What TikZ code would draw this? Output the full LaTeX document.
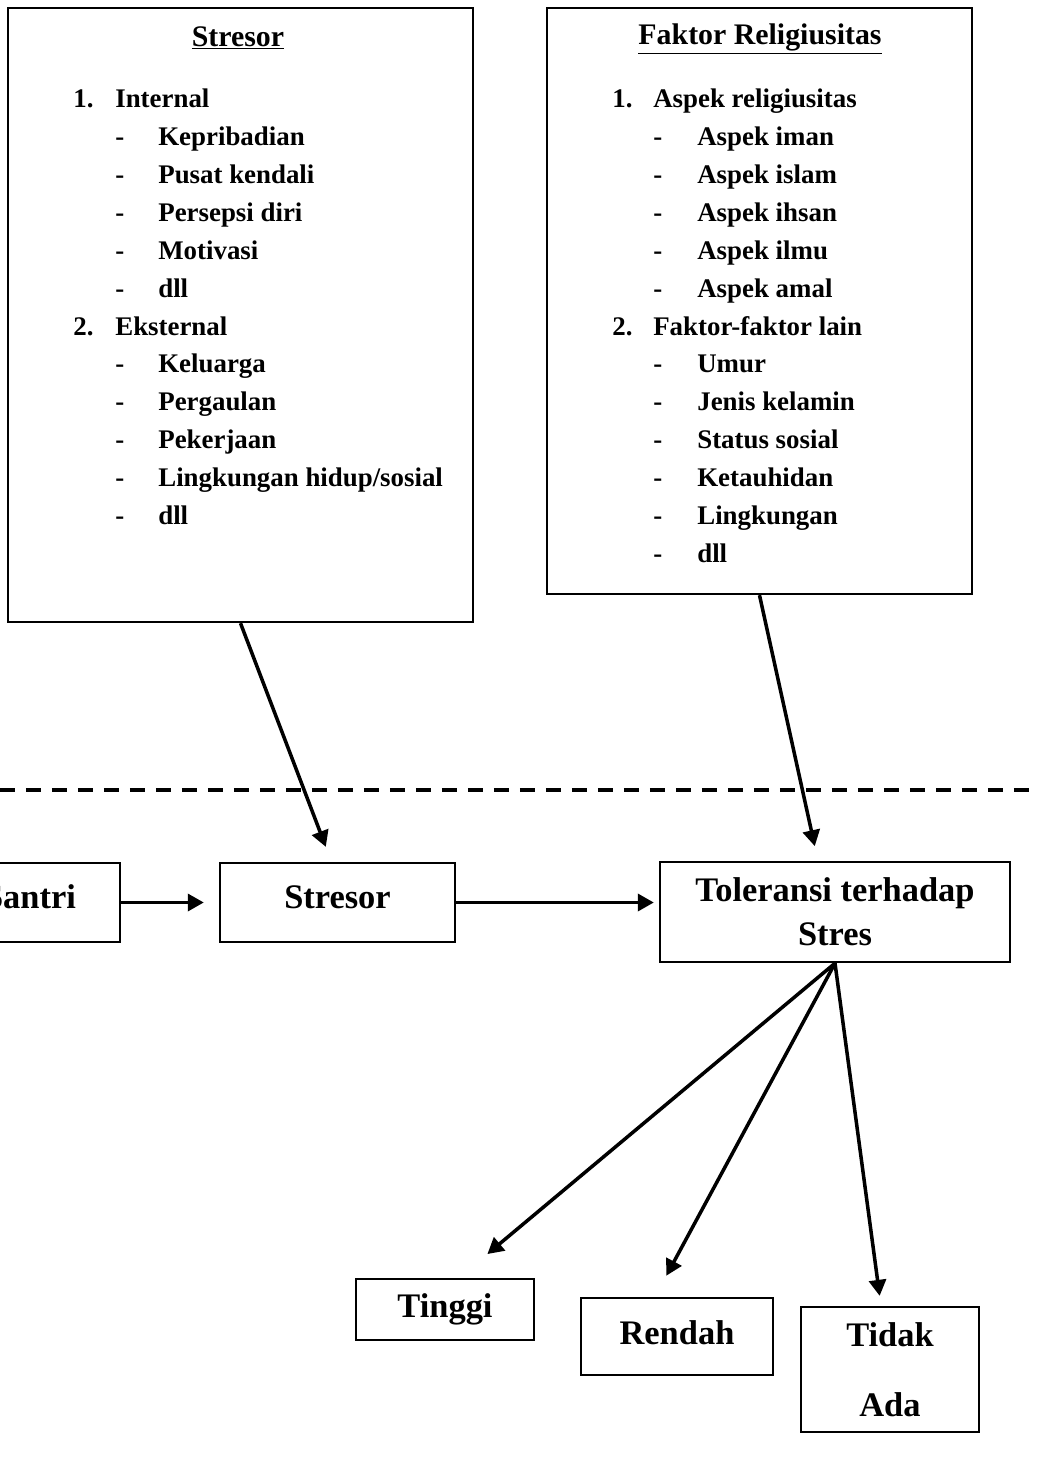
\documentclass[tikz,border=0pt]{standalone}
\usepackage{fontspec}
\setmainfont{Liberation Serif}
\usepackage{array}
\usetikzlibrary{
	arrows.meta,                % For Triangle arrows
	positioning,
	calc                        % For shifted anchors
}
\tikzset{
	outerbox/.style={
		draw,
		line width=1.4pt,
		rectangle,
		inner sep=0pt
	},
	block/.style={
		draw,
		line width=1.4pt,
		align=center,
		inner sep=0pt,
		font=\bfseries\fontsize{19.6}{25}\selectfont
	},
	title/.style={
		inner sep=0pt,
		font=\bfseries\fontsize{17}{20}\selectfont
	},
	itemlist/.style={
		inner sep=0pt,
		font=\bfseries\fontsize{15.3}{21.6}\selectfont
	},
	arrow/.style={
		-{Triangle[length=0.32cm, width=0.34cm]},
		line width=2pt
	},
	divider/.style={
		line width=2pt,
		dash pattern=on 0.3cm off 0.22cm
	}
}

\begin{document}
\begin{tikzpicture}[x=0.02cm, y=-0.02cm]
		\clip (0,0) rectangle (1036,1475);
		
		% Top: the two factor boxes
		\node [outerbox, minimum width=9.3cm, minimum height=12.28cm] (stresorbox) at (240.5,315) {};
		\node [outerbox, minimum width=8.5cm, minimum height=11.72cm] (faktorbox) at (759.5,301) {};
		
		\node [title, anchor=base] (stresortitle) at (238,46) {\underline{Stresor}};
		\node [title, anchor=base] (faktortitle) at (760,44) {\underline{Faktor Religiusitas}};
		
		\node [itemlist, anchor=north west] (stresorlist) at (73,80.4) {%
			\begin{tabular}{@{}p{0.84cm}@{}p{0.86cm}@{}l@{}}
				1. & \multicolumn{2}{@{}l@{}}{Internal} \\
				& - & Kepribadian \\
				& - & Pusat kendali \\
				& - & Persepsi diri \\
				& - & Motivasi \\
				& - & dll \\
				2. & \multicolumn{2}{@{}l@{}}{Eksternal} \\
				& - & Keluarga \\
				& - & Pergaulan \\
				& - & Pekerjaan \\
				& - & Lingkungan hidup/sosial \\
				& - & dll \\
			\end{tabular}};
		
		\node [itemlist, anchor=north west] (faktorlist) at (612,80.4) {%
			\begin{tabular}{@{}p{0.82cm}@{}p{0.88cm}@{}l@{}}
				1. & \multicolumn{2}{@{}l@{}}{Aspek religiusitas} \\
				& - & Aspek iman \\
				& - & Aspek islam \\
				& - & Aspek ihsan \\
				& - & Aspek ilmu \\
				& - & Aspek amal \\
				2. & \multicolumn{2}{@{}l@{}}{Faktor-faktor lain} \\
				& - & Umur \\
				& - & Jenis kelamin \\
				& - & Status sosial \\
				& - & Ketauhidan \\
				& - & Lingkungan \\
				& - & dll \\
			\end{tabular}};
		
		% Divider
		\coordinate (dashL) at (0,790);
		\coordinate (dashR) at (1036,790);
		\draw [divider] (dashL) -- (dashR);
		
		% Middle row
		\node [block, minimum width=3.6cm, minimum height=1.58cm, text depth=0.65em] (santri) at (30,902.5) {Santri};
		\node [block, minimum width=4.7cm, minimum height=1.58cm, text depth=0.65em] (stres) at (337.5,902.5) {Stresor};
		\node [block, minimum width=7cm, minimum height=2cm] (tol) at (835,912) {Toleransi terhadap\\Stres};
		
		% Bottom row: outcomes
		\node [block, minimum width=3.56cm, minimum height=1.22cm] (tinggi) at (445,1309.5) {Tinggi};
		\node [block, minimum width=3.84cm, minimum height=1.54cm, text depth=0.45em] (rendah) at (677,1336.5) {Rendah};
		\node [block, minimum width=3.56cm, minimum height=2.5cm, font=\bfseries\fontsize{19.6}{39.8}\selectfont] (tidak) at (890,1369.5) {Tidak\\Ada};
		
		% Connections
		\draw [arrow, shorten >=0.3cm] (santri) -- (stres);
		\draw [arrow, shorten >=0.1cm] (stres.east) -- (stres.east -| tol.west);
		\draw [arrow, shorten >=0.32cm] (stresorbox.south) -- ($(stres.north)+(-6,0)$);
		\draw [arrow, shorten >=0.3cm] (faktorbox.south) -- ($(tol.north)+(-17,0)$);
		
		\draw [arrow, shorten >=0.74cm] (tol.south) -- ($(tinggi.north)+(14,0)$);
		\draw [arrow, shorten >=0.48cm] (tol.south) -- ($(rendah.north)+(-22,0)$);
		\draw [arrow, shorten >=0.2cm] (tol.south) -- ($(tidak.north)+(-9,0)$);
	\end{tikzpicture}
\end{document}
